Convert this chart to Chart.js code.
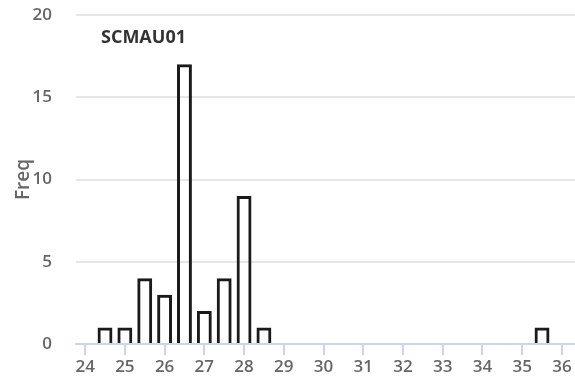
<!DOCTYPE html>
<html>
<head>
<meta charset="utf-8">
<script src="https://cdn.jsdelivr.net/npm/chart.js@4/dist/chart.umd.min.js"></script>
<style>
  html, body { margin: 0; padding: 0; background: #ffffff; }
  #wrap { width: 575px; height: 383px; position: relative; }
</style>
</head>
<body>
<div id="wrap"><canvas id="c" width="575" height="383"></canvas></div>
<script>
// ---- data ----
const chartTitle = "SCMAU01";
const yAxisTitle = "Freq";
const binCenters = [24.5, 25, 25.5, 26, 26.5, 27, 27.5, 28, 28.5, 35.5];
const freq       = [1, 1, 4, 3, 17, 2, 4, 9, 1, 1];
const xTicks     = [24, 25, 26, 27, 28, 29, 30, 31, 32, 33, 34, 35, 36];
const yTicks     = [0, 5, 10, 15, 20];
const xMin = 23.77, xMax = 36.33;
const yMin = 0, yMax = 20;

const FONT = "'Open Sans', 'DejaVu Sans', sans-serif";

const points = binCenters.map((x, i) => ({ x: x, y: freq[i] }));

const titlePlugin = {
  id: 'innerTitle',
  afterDraw(chart) {
    const { ctx, chartArea } = chart;
    ctx.save();
    ctx.font = "bold 18px " + FONT;
    ctx.fillStyle = "#333333";
    ctx.textAlign = "left";
    ctx.textBaseline = "middle";
    ctx.fillText(chartTitle, chartArea.left + 25, chartArea.top + 23);
    ctx.restore();
  }
};

new Chart(document.getElementById('c'), {
  type: 'bar',
  data: {
    datasets: [{
      data: points,
      backgroundColor: 'rgba(255,255,255,0)',
      borderColor: '#1a1a1a',
      borderWidth: 3,
      borderSkipped: 'start',
      categoryPercentage: 1.0,
      barPercentage: 0.75
    }]
  },
  options: {
    responsive: false,
    animation: false,
    layout: { padding: { top: 15, right: 0, bottom: 0, left: 0 } },
    plugins: {
      legend: { display: false },
      tooltip: { enabled: false }
    },
    scales: {
      x: {
        type: 'linear',
        offset: false,
        min: xMin,
        max: xMax,
        afterBuildTicks(scale) { scale.ticks = xTicks.map(v => ({ value: v })); },
        afterFit(scale) { scale.height = 39; scale.paddingLeft = 0; scale.paddingRight = 0; },
        grid: {
          offset: false,
          drawOnChartArea: false,
          drawTicks: true,
          tickLength: 11,
          color: '#ccd6eb',
          lineWidth: 2
        },
        border: { display: true, color: '#ccd6eb', width: 2 },
        ticks: {
          color: '#666666',
          font: { family: FONT, size: 17, weight: '600' },
          padding: 2,
          maxRotation: 0,
          autoSkip: false
        }
      },
      y: {
        min: yMin,
        max: yMax,
        afterBuildTicks(scale) { scale.ticks = yTicks.map(v => ({ value: v })); },
        afterFit(scale) { scale.width = 76; scale.paddingTop = 0; scale.paddingBottom = 0; },
        grid: {
          drawTicks: false,
          color: '#e6e6e6',
          lineWidth: 2
        },
        border: { display: false },
        ticks: {
          color: '#666666',
          font: { family: FONT, size: 17, weight: '600' },
          padding: 24
        },
        title: {
          display: true,
          text: yAxisTitle,
          color: '#666666',
          font: { family: FONT, size: 19, weight: '600' },
          padding: { top: 12, bottom: 0 }
        }
      }
    }
  },
  plugins: [titlePlugin]
});
</script>
</body>
</html>
